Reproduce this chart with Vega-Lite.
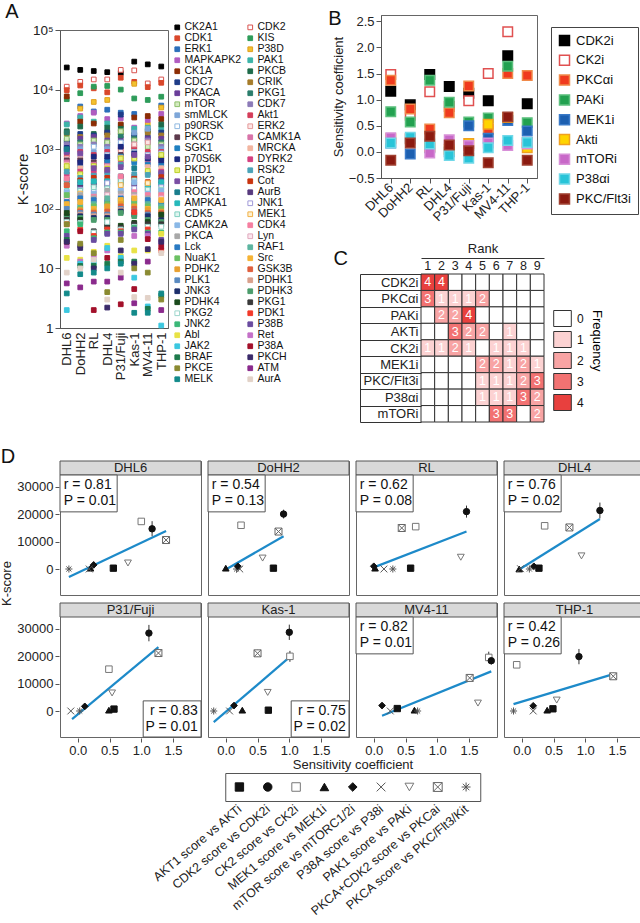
{
"$schema": "https://vega.github.io/schema/vega-lite/v6.json",
"padding": {"left": 0, "top": 1, "right": 0, "bottom": 0},
"autosize": {"type": "pad"},
"config": {
  "font": "Liberation Sans",
  "view": {"stroke": "#666", "strokeWidth": 1},
  "axis": {"labelFontSize": 13, "titleFontSize": 13, "titleFontWeight": "normal", "labelColor": "#222", "titleColor": "#222", "tickColor": "#555", "domainColor": "#555", "grid": false},
  "legend": {"labelFontSize": 12, "titleFontWeight": "normal", "labelColor": "#111"},
  "title": {"fontWeight": "normal", "fontSize": 20, "anchor": "start", "frame": "bounds", "color": "#111"},
  "header": {"labels": false},
  "headerFacet": {"labels": false}
},
"datasets": {
  "kin": [
    {"k":"CK2A1","DHL6":23500,"DoHH2":21400,"RL":20500,"DHL4":19600,"P31/Fuji":19000,"Kas-1":29500,"MV4-11":26500,"THP-1":24400},
    {"k":"CDK2","DHL6":11200,"DoHH2":13500,"RL":14800,"DHL4":14800,"P31/Fuji":21400,"Kas-1":21000,"MV4-11":12700,"THP-1":14800},
    {"k":"CDK1","DHL6":9800,"DoHH2":11700,"RL":10500,"DHL4":9000,"P31/Fuji":15800,"Kas-1":13500,"MV4-11":11000,"THP-1":13000},
    {"k":"KIS","DHL6":6900,"DoHH2":8700,"RL":11200,"DHL4":11500,"P31/Fuji":10000,"Kas-1":7100,"MV4-11":6700,"THP-1":7600},
    {"k":"ERK1","DHL6":1400,"DoHH2":5200,"RL":4300,"DHL4":4600,"P31/Fuji":4100,"Kas-1":3900,"MV4-11":2100,"THP-1":5400},
    {"k":"P38D","DHL6":480,"DoHH2":4800,"RL":6200,"DHL4":6700,"P31/Fuji":760,"Kas-1":12500,"MV4-11":2600,"THP-1":5000},
    {"k":"MAPKAPK2","DHL6":2700,"DoHH2":3600,"RL":4100,"DHL4":3200,"P31/Fuji":3300,"Kas-1":2300,"MV4-11":3100,"THP-1":3900},
    {"k":"PAK1","DHL6":2600,"DoHH2":3400,"RL":2900,"DHL4":2700,"P31/Fuji":2500,"Kas-1":2200,"MV4-11":2300,"THP-1":2200},
    {"k":"CK1A","DHL6":7700,"DoHH2":2900,"RL":2700,"DHL4":1900,"P31/Fuji":2600,"Kas-1":3400,"MV4-11":3600,"THP-1":3200},
    {"k":"PKCB","DHL6":2000,"DoHH2":2400,"RL":1800,"DHL4":2300,"P31/Fuji":2200,"Kas-1":1800,"MV4-11":2000,"THP-1":2600},
    {"k":"CDC7","DHL6":1300,"DoHH2":1800,"RL":1700,"DHL4":1900,"P31/Fuji":3800,"Kas-1":1700,"MV4-11":1600,"THP-1":1900},
    {"k":"CRIK","DHL6":1800,"DoHH2":1600,"RL":1500,"DHL4":1700,"P31/Fuji":1900,"Kas-1":1000,"MV4-11":1900,"THP-1":1700},
    {"k":"PKACA","DHL6":1100,"DoHH2":1500,"RL":1600,"DHL4":1400,"P31/Fuji":1500,"Kas-1":1400,"MV4-11":1500,"THP-1":1500},
    {"k":"PKG1","DHL6":1900,"DoHH2":1300,"RL":1300,"DHL4":1200,"P31/Fuji":1700,"Kas-1":1500,"MV4-11":1300,"THP-1":1300},
    {"k":"mTOR","DHL6":1500,"DoHH2":1200,"RL":1400,"DHL4":1300,"P31/Fuji":2000,"Kas-1":1400,"MV4-11":1100,"THP-1":1200},
    {"k":"CDK7","DHL6":1200,"DoHH2":1100,"RL":1200,"DHL4":1100,"P31/Fuji":1100,"Kas-1":1200,"MV4-11":1400,"THP-1":1100},
    {"k":"smMLCK","DHL6":900,"DoHH2":1000,"RL":900,"DHL4":1000,"P31/Fuji":1200,"Kas-1":1900,"MV4-11":2200,"THP-1":1000},
    {"k":"Akt1","DHL6":800,"DoHH2":900,"RL":800,"DHL4":900,"P31/Fuji":1000,"Kas-1":1100,"MV4-11":900,"THP-1":900},
    {"k":"p90RSK","DHL6":1000,"DoHH2":800,"RL":1100,"DHL4":800,"P31/Fuji":1300,"Kas-1":900,"MV4-11":800,"THP-1":850},
    {"k":"ERK2","DHL6":700,"DoHH2":700,"RL":700,"DHL4":700,"P31/Fuji":950,"Kas-1":1200,"MV4-11":1300,"THP-1":750},
    {"k":"PKCD","DHL6":650,"DoHH2":650,"RL":600,"DHL4":600,"P31/Fuji":800,"Kas-1":750,"MV4-11":650,"THP-1":700},
    {"k":"CAMK1A","DHL6":600,"DoHH2":550,"RL":550,"DHL4":550,"P31/Fuji":700,"Kas-1":650,"MV4-11":600,"THP-1":600},
    {"k":"SGK1","DHL6":950,"DoHH2":500,"RL":500,"DHL4":650,"P31/Fuji":750,"Kas-1":600,"MV4-11":550,"THP-1":550},
    {"k":"MRCKA","DHL6":550,"DoHH2":480,"RL":450,"DHL4":500,"P31/Fuji":720,"Kas-1":700,"MV4-11":500,"THP-1":480},
    {"k":"p70S6K","DHL6":1050,"DoHH2":600,"RL":750,"DHL4":750,"P31/Fuji":1100,"Kas-1":850,"MV4-11":700,"THP-1":650},
    {"k":"DYRK2","DHL6":380,"DoHH2":420,"RL":400,"DHL4":420,"P31/Fuji":600,"Kas-1":350,"MV4-11":400,"THP-1":420},
    {"k":"PKD1","DHL6":520,"DoHH2":380,"RL":520,"DHL4":470,"P31/Fuji":700,"Kas-1":700,"MV4-11":430,"THP-1":800},
    {"k":"RSK2","DHL6":420,"DoHH2":330,"RL":360,"DHL4":380,"P31/Fuji":550,"Kas-1":380,"MV4-11":370,"THP-1":380},
    {"k":"HIPK2","DHL6":900,"DoHH2":850,"RL":480,"DHL4":450,"P31/Fuji":500,"Kas-1":800,"MV4-11":750,"THP-1":400},
    {"k":"Cot","DHL6":250,"DoHH2":300,"RL":330,"DHL4":330,"P31/Fuji":280,"Kas-1":320,"MV4-11":280,"THP-1":340},
    {"k":"ROCK1","DHL6":1000,"DoHH2":230,"RL":280,"DHL4":280,"P31/Fuji":350,"Kas-1":480,"MV4-11":250,"THP-1":260},
    {"k":"AurB","DHL6":310,"DoHH2":260,"RL":250,"DHL4":250,"P31/Fuji":330,"Kas-1":260,"MV4-11":220,"THP-1":300},
    {"k":"AMPKA1","DHL6":280,"DoHH2":280,"RL":290,"DHL4":290,"P31/Fuji":260,"Kas-1":200,"MV4-11":250,"THP-1":280},
    {"k":"JNK1","DHL6":160,"DoHH2":210,"RL":200,"DHL4":270,"P31/Fuji":210,"Kas-1":220,"MV4-11":200,"THP-1":230},
    {"k":"CDK5","DHL6":200,"DoHH2":200,"RL":230,"DHL4":220,"P31/Fuji":300,"Kas-1":300,"MV4-11":210,"THP-1":210},
    {"k":"MEK1","DHL6":180,"DoHH2":180,"RL":170,"DHL4":160,"P31/Fuji":250,"Kas-1":150,"MV4-11":270,"THP-1":180},
    {"k":"CAMK2A","DHL6":190,"DoHH2":140,"RL":180,"DHL4":180,"P31/Fuji":200,"Kas-1":280,"MV4-11":180,"THP-1":200},
    {"k":"CDK4","DHL6":320,"DoHH2":160,"RL":160,"DHL4":140,"P31/Fuji":350,"Kas-1":190,"MV4-11":170,"THP-1":170},
    {"k":"PKCA","DHL6":150,"DoHH2":170,"RL":150,"DHL4":200,"P31/Fuji":180,"Kas-1":170,"MV4-11":150,"THP-1":130},
    {"k":"Lyn","DHL6":140,"DoHH2":120,"RL":130,"DHL4":170,"P31/Fuji":160,"Kas-1":160,"MV4-11":130,"THP-1":150},
    {"k":"Lck","DHL6":130,"DoHH2":150,"RL":140,"DHL4":130,"P31/Fuji":150,"Kas-1":140,"MV4-11":140,"THP-1":120},
    {"k":"RAF1","DHL6":110,"DoHH2":110,"RL":120,"DHL4":150,"P31/Fuji":140,"Kas-1":130,"MV4-11":120,"THP-1":110},
    {"k":"NuaK1","DHL6":170,"DoHH2":100,"RL":110,"DHL4":120,"P31/Fuji":130,"Kas-1":120,"MV4-11":110,"THP-1":100},
    {"k":"Src","DHL6":120,"DoHH2":130,"RL":100,"DHL4":100,"P31/Fuji":140,"Kas-1":150,"MV4-11":100,"THP-1":140},
    {"k":"PDHK2","DHL6":90,"DoHH2":95,"RL":90,"DHL4":110,"P31/Fuji":120,"Kas-1":110,"MV4-11":95,"THP-1":90},
    {"k":"GSK3B","DHL6":250,"DoHH2":90,"RL":85,"DHL4":90,"P31/Fuji":110,"Kas-1":100,"MV4-11":85,"THP-1":85},
    {"k":"PLK1","DHL6":100,"DoHH2":85,"RL":80,"DHL4":80,"P31/Fuji":100,"Kas-1":90,"MV4-11":80,"THP-1":75},
    {"k":"PDHK1","DHL6":80,"DoHH2":80,"RL":75,"DHL4":75,"P31/Fuji":95,"Kas-1":85,"MV4-11":70,"THP-1":70},
    {"k":"JNK3","DHL6":75,"DoHH2":75,"RL":70,"DHL4":70,"P31/Fuji":90,"Kas-1":80,"MV4-11":75,"THP-1":65},
    {"k":"PDHK3","DHL6":70,"DoHH2":70,"RL":65,"DHL4":65,"P31/Fuji":85,"Kas-1":75,"MV4-11":65,"THP-1":60},
    {"k":"PDHK4","DHL6":85,"DoHH2":65,"RL":38,"DHL4":50,"P31/Fuji":52,"Kas-1":58,"MV4-11":60,"THP-1":80},
    {"k":"PKG1 ","DHL6":65,"DoHH2":60,"RL":42,"DHL4":55,"P31/Fuji":48,"Kas-1":55,"MV4-11":55,"THP-1":55},
    {"k":"PKG2","DHL6":60,"DoHH2":58,"RL":40,"DHL4":60,"P31/Fuji":45,"Kas-1":50,"MV4-11":50,"THP-1":50},
    {"k":"PDK1","DHL6":55,"DoHH2":45,"RL":35,"DHL4":45,"P31/Fuji":42,"Kas-1":88,"MV4-11":45,"THP-1":20},
    {"k":"JNK2","DHL6":42,"DoHH2":55,"RL":32,"DHL4":40,"P31/Fuji":40,"Kas-1":48,"MV4-11":40,"THP-1":40},
    {"k":"P38B","DHL6":35,"DoHH2":24,"RL":30,"DHL4":38,"P31/Fuji":38,"Kas-1":45,"MV4-11":38,"THP-1":30},
    {"k":"Abl","DHL6":15,"DoHH2":14,"RL":19,"DHL4":24,"P31/Fuji":16,"Kas-1":20,"MV4-11":20,"THP-1":38},
    {"k":"Ret","DHL6":24,"DoHH2":13,"RL":16,"DHL4":20,"P31/Fuji":14,"Kas-1":35,"MV4-11":35,"THP-1":27},
    {"k":"JAK2","DHL6":2,"DoHH2":12,"RL":13,"DHL4":22,"P31/Fuji":15,"Kas-1":7,"MV4-11":2.3,"THP-1":1.1},
    {"k":"P38A","DHL6":28,"DoHH2":42,"RL":2,"DHL4":15,"P31/Fuji":2.5,"Kas-1":4.5,"MV4-11":31,"THP-1":23},
    {"k":"BRAF","DHL6":30,"DoHH2":11,"RL":11,"DHL4":12,"P31/Fuji":13,"Kas-1":13,"MV4-11":2.1,"THP-1":3.5},
    {"k":"PKCH","DHL6":28,"DoHH2":22,"RL":10,"DHL4":2.2,"P31/Fuji":20,"Kas-1":12,"MV4-11":21,"THP-1":28},
    {"k":"PKCE","DHL6":55,"DoHH2":26,"RL":18,"DHL4":4,"P31/Fuji":30,"Kas-1":10,"MV4-11":8.5,"THP-1":3},
    {"k":"ATM","DHL6":5.6,"DoHH2":4.8,"RL":6,"DHL4":6,"P31/Fuji":7,"Kas-1":2.6,"MV4-11":13,"THP-1":2},
    {"k":"MELK","DHL6":3.8,"DoHH2":8,"RL":8.5,"DHL4":10,"P31/Fuji":12,"Kas-1":1.8,"MV4-11":1.8,"THP-1":3.8},
    {"k":"AurA","DHL6":8.5,"DoHH2":10,"RL":14,"DHL4":3,"P31/Fuji":8.5,"Kas-1":3.3,"MV4-11":3.2,"THP-1":18}
  ],
  "sens": [
    {"inh":"CDK2i","DHL6":1.16,"DoHH2":0.9,"RL":1.48,"DHL4":1.25,"P31/Fuji":1.12,"Kas-1":0.98,"MV4-11":1.84,"THP-1":0.92},
    {"inh":"CK2i","DHL6":1.48,"DoHH2":0.7,"RL":1.15,"DHL4":0.87,"P31/Fuji":0.98,"Kas-1":1.5,"MV4-11":2.3,"THP-1":0.18},
    {"inh":"PKCαi","DHL6":1.37,"DoHH2":0.82,"RL":0.44,"DHL4":0.75,"P31/Fuji":1.26,"Kas-1":0.43,"MV4-11":1.5,"THP-1":1.46},
    {"inh":"PAKi","DHL6":0.77,"DoHH2":0.57,"RL":1.37,"DHL4":0.95,"P31/Fuji":0.57,"Kas-1":0.65,"MV4-11":1.64,"THP-1":0.56},
    {"inh":"MEK1i","DHL6":0.17,"DoHH2":-0.04,"RL":0.08,"DHL4":0.0,"P31/Fuji":0.5,"Kas-1":0.26,"MV4-11":0.6,"THP-1":0.4},
    {"inh":"Akti","DHL6":0.25,"DoHH2":0.25,"RL":0.1,"DHL4":0.05,"P31/Fuji":0.16,"Kas-1":0.53,"MV4-11":0.66,"THP-1":0.08},
    {"inh":"mTORi","DHL6":0.27,"DoHH2":0.25,"RL":-0.02,"DHL4":0.23,"P31/Fuji":0.12,"Kas-1":0.17,"MV4-11":0.12,"THP-1":0.15},
    {"inh":"P38αi","DHL6":0.17,"DoHH2":0.28,"RL":0.15,"DHL4":-0.07,"P31/Fuji":-0.12,"Kas-1":0.08,"MV4-11":0.22,"THP-1":0.18},
    {"inh":"PKC/Flt3i","DHL6":-0.16,"DoHH2":0.17,"RL":0.3,"DHL4":0.13,"P31/Fuji":0.02,"Kas-1":-0.21,"MV4-11":0.67,"THP-1":-0.16}
  ],
  "rank": [
    {"inh":"CDK2i","1":4,"2":4,"3":0,"4":0,"5":0,"6":0,"7":0,"8":0,"9":0},
    {"inh":"PKCαi","1":3,"2":1,"3":1,"4":1,"5":2,"6":0,"7":0,"8":0,"9":0},
    {"inh":"PAKi","1":0,"2":2,"3":2,"4":4,"5":0,"6":0,"7":0,"8":0,"9":0},
    {"inh":"AKTi","1":0,"2":0,"3":3,"4":2,"5":2,"6":0,"7":1,"8":0,"9":0},
    {"inh":"CK2i","1":1,"2":1,"3":2,"4":1,"5":0,"6":1,"7":1,"8":1,"9":0},
    {"inh":"MEK1i","1":0,"2":0,"3":0,"4":0,"5":2,"6":2,"7":1,"8":2,"9":1},
    {"inh":"PKC/Flt3i","1":0,"2":0,"3":0,"4":0,"5":1,"6":1,"7":1,"8":2,"9":3},
    {"inh":"P38αi","1":0,"2":0,"3":0,"4":0,"5":1,"6":1,"7":1,"8":3,"9":2},
    {"inh":"mTORi","1":0,"2":0,"3":0,"4":0,"5":0,"6":3,"7":3,"8":0,"9":2}
  ],
  "dd": [
    {"t":"ann","cell":"DHL6","pos":"tl","lab":"r = 0.81\nP = 0.01"},
    {"t":"ann","cell":"DoHH2","pos":"tl","lab":"r = 0.54\nP = 0.13"},
    {"t":"ann","cell":"RL","pos":"tl","lab":"r = 0.62\nP = 0.08"},
    {"t":"ann","cell":"DHL4","pos":"tl","lab":"r = 0.76\nP = 0.02"},
    {"t":"ann","cell":"P31/Fuji","pos":"br","lab":"r = 0.83\nP = 0.01"},
    {"t":"ann","cell":"Kas-1","pos":"br","lab":"r = 0.75\nP = 0.02"},
    {"t":"ann","cell":"MV4-11","pos":"tl","lab":"r = 0.82\nP = 0.01"},
    {"t":"ann","cell":"THP-1","pos":"tl","lab":"r = 0.42\nP = 0.26"},
    {"t":"line","cell":"DHL6","x":-0.14,"y":-2900},{"t":"line","cell":"DHL6","x":1.39,"y":13900},
    {"t":"line","cell":"DoHH2","x":0.0,"y":-200},{"t":"line","cell":"DoHH2","x":0.91,"y":12000},
    {"t":"line","cell":"RL","x":0.0,"y":600},{"t":"line","cell":"RL","x":1.46,"y":13700},
    {"t":"line","cell":"DHL4","x":-0.04,"y":-200},{"t":"line","cell":"DHL4","x":1.23,"y":18300},
    {"t":"line","cell":"P31/Fuji","x":-0.09,"y":-3000},{"t":"line","cell":"P31/Fuji","x":1.27,"y":23400},
    {"t":"line","cell":"Kas-1","x":-0.19,"y":-4100},{"t":"line","cell":"Kas-1","x":1.0,"y":19600},
    {"t":"line","cell":"MV4-11","x":0.13,"y":-1700},{"t":"line","cell":"MV4-11","x":1.85,"y":14500},
    {"t":"line","cell":"THP-1","x":-0.13,"y":2500},{"t":"line","cell":"THP-1","x":1.44,"y":13500},
    {"t":"pt","cell":"DHL6","comp":"c9","x":-0.14,"y":0},
    {"t":"pt","cell":"DHL6","comp":"c4","x":0.2,"y":300},
    {"t":"pt","cell":"DHL6","comp":"c5","x":0.25,"y":1500},
    {"t":"pt","cell":"DHL6","comp":"c6","x":0.18,"y":0},
    {"t":"pt","cell":"DHL6","comp":"c1","x":0.56,"y":300},
    {"t":"pt","cell":"DHL6","comp":"c7","x":0.79,"y":2200},
    {"t":"pt","cell":"DHL6","comp":"c3","x":1.0,"y":17400,"lo":16400,"hi":18400},
    {"t":"pt","cell":"DHL6","comp":"c2","x":1.17,"y":14700,"lo":12000,"hi":17500},
    {"t":"pt","cell":"DHL6","comp":"c8","x":1.39,"y":10600,"lo":9600,"hi":11600},
    {"t":"pt","cell":"DoHH2","comp":"c4","x":0.0,"y":300},
    {"t":"pt","cell":"DoHH2","comp":"c9","x":0.17,"y":0},
    {"t":"pt","cell":"DoHH2","comp":"c6","x":0.22,"y":0},
    {"t":"pt","cell":"DoHH2","comp":"c5","x":0.19,"y":1000},
    {"t":"pt","cell":"DoHH2","comp":"c1","x":0.75,"y":300},
    {"t":"pt","cell":"DoHH2","comp":"c7","x":0.58,"y":4000},
    {"t":"pt","cell":"DoHH2","comp":"c3","x":0.24,"y":16000},
    {"t":"pt","cell":"DoHH2","comp":"c8","x":0.83,"y":13700,"lo":12900,"hi":14500},
    {"t":"pt","cell":"DoHH2","comp":"c2","x":0.91,"y":20100,"lo":18500,"hi":21700},
    {"t":"pt","cell":"RL","comp":"c5","x":0.0,"y":1000},
    {"t":"pt","cell":"RL","comp":"c4","x":0.02,"y":300},
    {"t":"pt","cell":"RL","comp":"c6","x":0.16,"y":0},
    {"t":"pt","cell":"RL","comp":"c9","x":0.3,"y":0},
    {"t":"pt","cell":"RL","comp":"c1","x":0.58,"y":300},
    {"t":"pt","cell":"RL","comp":"c7","x":1.37,"y":4300},
    {"t":"pt","cell":"RL","comp":"c3","x":0.66,"y":15500,"lo":14700,"hi":16300},
    {"t":"pt","cell":"RL","comp":"c8","x":0.44,"y":15000,"lo":14000,"hi":16000},
    {"t":"pt","cell":"RL","comp":"c2","x":1.46,"y":21000,"lo":18800,"hi":23200},
    {"t":"pt","cell":"DHL4","comp":"c4","x":-0.04,"y":0},
    {"t":"pt","cell":"DHL4","comp":"c6","x":-0.02,"y":100},
    {"t":"pt","cell":"DHL4","comp":"c9","x":0.12,"y":0},
    {"t":"pt","cell":"DHL4","comp":"c5","x":0.19,"y":1000},
    {"t":"pt","cell":"DHL4","comp":"c1","x":0.27,"y":300},
    {"t":"pt","cell":"DHL4","comp":"c3","x":0.36,"y":15800,"lo":15000,"hi":16600},
    {"t":"pt","cell":"DHL4","comp":"c8","x":0.75,"y":15200,"lo":13900,"hi":16500},
    {"t":"pt","cell":"DHL4","comp":"c7","x":0.94,"y":4800,"lo":4000,"hi":5600},
    {"t":"pt","cell":"DHL4","comp":"c2","x":1.23,"y":21400,"lo":18500,"hi":24300},
    {"t":"pt","cell":"P31/Fuji","comp":"c6","x":-0.11,"y":0},
    {"t":"pt","cell":"P31/Fuji","comp":"c9","x":0.03,"y":0},
    {"t":"pt","cell":"P31/Fuji","comp":"c5","x":0.11,"y":1700},
    {"t":"pt","cell":"P31/Fuji","comp":"c4","x":0.49,"y":300},
    {"t":"pt","cell":"P31/Fuji","comp":"c1","x":0.57,"y":700},
    {"t":"pt","cell":"P31/Fuji","comp":"c3","x":0.49,"y":15300,"lo":14500,"hi":16100},
    {"t":"pt","cell":"P31/Fuji","comp":"c7","x":0.54,"y":6600,"lo":6000,"hi":7200},
    {"t":"pt","cell":"P31/Fuji","comp":"c2","x":1.12,"y":28500,"lo":25500,"hi":31500},
    {"t":"pt","cell":"P31/Fuji","comp":"c8","x":1.27,"y":21200,"lo":20000,"hi":22400},
    {"t":"pt","cell":"Kas-1","comp":"c9","x":-0.19,"y":0},
    {"t":"pt","cell":"Kas-1","comp":"c6","x":0.06,"y":0},
    {"t":"pt","cell":"Kas-1","comp":"c5","x":0.13,"y":2000},
    {"t":"pt","cell":"Kas-1","comp":"c4","x":0.26,"y":300},
    {"t":"pt","cell":"Kas-1","comp":"c1","x":0.67,"y":300},
    {"t":"pt","cell":"Kas-1","comp":"c7","x":0.66,"y":6800},
    {"t":"pt","cell":"Kas-1","comp":"c8","x":0.5,"y":21100,"lo":19800,"hi":22400},
    {"t":"pt","cell":"Kas-1","comp":"c3","x":1.01,"y":20000,"lo":18000,"hi":22000},
    {"t":"pt","cell":"Kas-1","comp":"c2","x":1.0,"y":28800,"lo":26000,"hi":31600},
    {"t":"pt","cell":"MV4-11","comp":"c5","x":0.13,"y":2000},
    {"t":"pt","cell":"MV4-11","comp":"c6","x":0.26,"y":0},
    {"t":"pt","cell":"MV4-11","comp":"c1","x":0.37,"y":900},
    {"t":"pt","cell":"MV4-11","comp":"c4","x":0.64,"y":300},
    {"t":"pt","cell":"MV4-11","comp":"c9","x":0.69,"y":0},
    {"t":"pt","cell":"MV4-11","comp":"c7","x":1.64,"y":2900},
    {"t":"pt","cell":"MV4-11","comp":"c8","x":1.51,"y":12100,"lo":11500,"hi":12700},
    {"t":"pt","cell":"MV4-11","comp":"c3","x":1.81,"y":19600,"lo":17500,"hi":21700},
    {"t":"pt","cell":"MV4-11","comp":"c2","x":1.85,"y":18400,"lo":17000,"hi":19800},
    {"t":"pt","cell":"THP-1","comp":"c9","x":-0.13,"y":0},
    {"t":"pt","cell":"THP-1","comp":"c5","x":0.18,"y":1900},
    {"t":"pt","cell":"THP-1","comp":"c6","x":0.18,"y":0},
    {"t":"pt","cell":"THP-1","comp":"c4","x":0.4,"y":300},
    {"t":"pt","cell":"THP-1","comp":"c1","x":0.49,"y":800},
    {"t":"pt","cell":"THP-1","comp":"c7","x":0.55,"y":4000,"lo":3300,"hi":4700},
    {"t":"pt","cell":"THP-1","comp":"c3","x":-0.08,"y":16900,"lo":16200,"hi":17600},
    {"t":"pt","cell":"THP-1","comp":"c2","x":0.9,"y":19900,"lo":17100,"hi":22700},
    {"t":"pt","cell":"THP-1","comp":"c8","x":1.44,"y":12700,"lo":11400,"hi":14000}
  ],
  "comps": [
    {"comp":"AKT1 score vs AKTi"},
    {"comp":"CDK2 score vs CDK2i"},
    {"comp":"CK2 score vs CK2i"},
    {"comp":"MEK1 score vs MEK1i"},
    {"comp":"mTOR score vs mTORC1/2i"},
    {"comp":"P38A score vs P38i"},
    {"comp":"PAK1 score vs PAKi"},
    {"comp":"PKCA+CDK2 score vs PKCai"},
    {"comp":"PKCA score vs PKC/Flt3/Kit"}
  ]
},
"resolve": {"scale": {"fill": "independent", "stroke": "independent", "shape": "independent", "size": "independent"}, "legend": {"fill": "independent", "stroke": "independent", "shape": "independent", "size": "independent"}},
"columns": 1,
"spacing": 24,
"concat": [
  {
    "columns": 2,
    "spacing": 25,
    "resolve": {"scale": {"fill": "independent", "stroke": "independent", "shape": "independent", "size": "independent"}, "legend": {"fill": "independent", "stroke": "independent", "shape": "independent", "size": "independent"}},
    "concat": [
      {
        "bounds": "flush",
        "spacing": 0,
        "resolve": {"scale": {"fill": "independent", "stroke": "independent", "shape": "independent", "size": "independent"}, "legend": {"fill": "independent", "stroke": "independent", "shape": "independent", "size": "independent"}},
        "vconcat": [
          {"width": 110, "height": 15, "view": {"stroke": null}, "data": {"values": []}, "mark": "point"},
          {
            "title": {"text": "A", "dx": -10, "offset": 0},
            "width": 108, "height": 298,
            "data": {"name": "kin"},
            "transform": [{"fold": ["DHL6","DoHH2","RL","DHL4","P31/Fuji","Kas-1","MV4-11","THP-1"], "as": ["cell","v"]}, {"filter": "datum.v > 0"}],
            "mark": {"type": "square", "size": 22, "strokeWidth": 1, "opacity": 1},
            "encoding": {
              "x": {"field": "cell", "type": "nominal", "sort": null, "scale": {"type": "point", "padding": 0.5}, "axis": {"title": null, "labelAngle": -90, "labelAlign": "right", "labelBaseline": "middle", "labelFontSize": 13, "ticks": false, "labelPadding": 4}},
              "y": {"field": "v", "type": "quantitative", "scale": {"type": "log", "domain": [1, 100000], "nice": false}, "axis": {"title": "K-score", "titleFontSize": 15, "values": [1,10,100,1000,10000,100000], "labelExpr": "datum.value == 1 ? '1' : datum.value == 10 ? '10' : datum.value == 100 ? '10²' : datum.value == 1000 ? '10³' : datum.value == 10000 ? '10⁴' : '10⁵'", "labelFontSize": 13.5, "tickSize": 5, "titlePadding": 2}},
              "fill": {"field": "k", "type": "nominal",
                "scale": {"domain": ["CK2A1","CDK1","ERK1","MAPKAPK2","CK1A","CDC7","PKACA","mTOR","smMLCK","p90RSK","PKCD","SGK1","p70S6K","PKD1","HIPK2","ROCK1","AMPKA1","CDK5","CAMK2A","PKCA","Lck","NuaK1","PDHK2","PLK1","JNK3","PDHK4","PKG2","JNK2","Abl","JAK2","BRAF","PKCE","MELK","CDK2","KIS","P38D","PAK1","PKCB","CRIK","PKG1","CDK7","Akt1","ERK2","CAMK1A","MRCKA","DYRK2","RSK2","Cot","AurB","JNK1","MEK1","CDK4","Lyn","RAF1","Src","GSK3B","PDHK1","PDHK3","PKG1 ","PDK1","P38B","Ret","P38A","PKCH","ATM","AurA"],
                  "range": ["#000000","#d9472b","#2c6fbb","#b05cc0","#8c2d04","#1f3c88","#6a3d9a","#d4eac0","#7ea6d8","#ffffff","#5c3a4c","#1f7fbf","#1b2a80","#e8f07a","#7a4ea3","#1a7d8c","#27b9bb","#e0f5f0","#8ab8e6","#a8a8a8","#2a7ac2","#6cc063","#e8a030","#5a8ac0","#1c2f6b","#1b4a1c","#ffffff","#3cb878","#e8e245","#3cc8e0","#1e7a4c","#8a8a32","#138a8a","#ffffff","#2e9c5a","#f2c12e","#3cb4a8","#1f6b4a","#a67c2a","#2b7d6c","#8c7bb8","#d43d5a","#fde6e6","#d873a8","#f2b6a0","#d5407f","#4aa3b8","#c9340f","#583a7e","#ffffff","#fff1d0","#f57fa0","#fbe6ee","#5cb5a0","#f5b335","#e0603e","#d9a08c","#4c9c6c","#3a3a3a","#f23a2a","#6a4ca0","#c470c8","#a3102a","#3a2a6a","#8a2a8c","#e2d2c8"]},
                "legend": {"title": null, "orient": "none", "legendX": 112, "legendY": -8, "columns": 2, "symbolLimit": 100, "symbolType": "square", "symbolSize": 22, "symbolStrokeWidth": 1, "labelFontSize": 10.5, "labelOffset": 2, "rowPadding": 0, "columnPadding": 3, "padding": 0, "labelLimit": 200}},
              "stroke": {"field": "k", "type": "nominal",
                "scale": {"domain": ["CK2A1","CDK1","ERK1","MAPKAPK2","CK1A","CDC7","PKACA","mTOR","smMLCK","p90RSK","PKCD","SGK1","p70S6K","PKD1","HIPK2","ROCK1","AMPKA1","CDK5","CAMK2A","PKCA","Lck","NuaK1","PDHK2","PLK1","JNK3","PDHK4","PKG2","JNK2","Abl","JAK2","BRAF","PKCE","MELK","CDK2","KIS","P38D","PAK1","PKCB","CRIK","PKG1","CDK7","Akt1","ERK2","CAMK1A","MRCKA","DYRK2","RSK2","Cot","AurB","JNK1","MEK1","CDK4","Lyn","RAF1","Src","GSK3B","PDHK1","PDHK3","PKG1 ","PDK1","P38B","Ret","P38A","PKCH","ATM","AurA"],
                  "range": ["#000000","#d9472b","#2c6fbb","#b05cc0","#8c2d04","#1f3c88","#6a3d9a","#8dbf6a","#7ea6d8","#8fb8e0","#5c3a4c","#1f7fbf","#1b2a80","#bcd12a","#7a4ea3","#1a7d8c","#27b9bb","#7fcfbf","#8ab8e6","#a8a8a8","#2a7ac2","#6cc063","#e8a030","#5a8ac0","#1c2f6b","#1b4a1c","#9cd6cc","#3cb878","#e8e245","#3cc8e0","#1e7a4c","#8a8a32","#138a8a","#d9534f","#2e9c5a","#e0a020","#3cb4a8","#1f6b4a","#a67c2a","#2b7d6c","#8c7bb8","#d43d5a","#e39a9a","#d873a8","#f2b6a0","#d5407f","#4aa3b8","#c9340f","#583a7e","#a09ad8","#f0b048","#f57fa0","#e0a8bc","#5cb5a0","#f5b335","#e0603e","#d9a08c","#4c9c6c","#3a3a3a","#f23a2a","#6a4ca0","#c470c8","#a3102a","#3a2a6a","#8a2a8c","#e2d2c8"]},
                "legend": {"title": null, "orient": "none", "legendX": 112, "legendY": -8, "columns": 2, "symbolLimit": 100, "symbolType": "square", "symbolSize": 22, "symbolStrokeWidth": 1, "labelFontSize": 10.5, "labelOffset": 2, "rowPadding": 0, "columnPadding": 3, "padding": 0, "labelLimit": 200}}
            }
          }
        ]
      },
      {
        "columns": 1,
        "spacing": 17,
        "resolve": {"scale": {"fill": "independent", "stroke": "independent", "shape": "independent", "size": "independent"}, "legend": {"fill": "independent", "stroke": "independent", "shape": "independent", "size": "independent"}},
        "concat": [
          {
            "title": {"text": "B", "dx": -4, "offset": -14},
            "width": 156, "height": 163,
            "data": {"name": "sens"},
            "transform": [{"fold": ["DHL6","DoHH2","RL","DHL4","P31/Fuji","Kas-1","MV4-11","THP-1"], "as": ["cell","v"]}],
            "mark": {"type": "square", "size": 90, "strokeWidth": 1.5, "opacity": 1},
            "encoding": {
              "x": {"field": "cell", "type": "nominal", "sort": null, "scale": {"type": "point", "padding": 0.5}, "axis": {"title": null, "labelAngle": -45, "labelAlign": "right", "labelBaseline": "middle", "labelFontSize": 13, "tickSize": 5}},
              "y": {"field": "v", "type": "quantitative", "scale": {"domain": [-0.5, 2.62], "nice": false, "zero": false}, "axis": {"title": "Sensitivity coefficient", "values": [-0.5,0,0.5,1,1.5,2,2.5], "format": ".1f", "labelFontSize": 13, "titleFontSize": 13, "tickSize": 5, "titlePadding": 3}},
              "fill": {"field": "inh", "type": "nominal", "scale": {"domain": ["CDK2i","CK2i","PKCαi","PAKi","MEK1i","Akti","mTORi","P38αi","PKC/Flt3i"], "range": ["#000000","#ffffff","#f03a1e","#22a150","#1c5fb0","#ffd400","#c868c8","#28c4d8","#8b1a10"]},
                "legend": {"title": null, "orient": "none", "legendX": 170, "legendY": 12, "strokeColor": "#444", "padding": 7, "symbolType": "square", "symbolSize": 100, "symbolStrokeWidth": 1.5, "labelFontSize": 13, "rowPadding": 2.8, "labelOffset": 5}},
              "stroke": {"field": "inh", "type": "nominal", "scale": {"domain": ["CDK2i","CK2i","PKCαi","PAKi","MEK1i","Akti","mTORi","P38αi","PKC/Flt3i"], "range": ["#000000","#e05050","#f08a4a","#5cc07e","#3a7ac8","#f0a020","#d890d8","#70d8e8","#a04030"]},
                "legend": {"title": null, "orient": "none", "legendX": 170, "legendY": 12, "strokeColor": "#444", "padding": 7, "symbolType": "square", "symbolSize": 100, "symbolStrokeWidth": 1.5, "labelFontSize": 13, "rowPadding": 2.8, "labelOffset": 5}}
            }
          },
          {
            "title": {"text": "C", "dx": -26, "offset": -27},
            "width": 163, "height": 148,
            "view": {"stroke": null},
            "data": {"name": "rank"},
            "transform": [{"fold": ["1","2","3","4","5","6","7","8","9"], "as": ["rank","f"]}],
            "resolve": {"axis": {"x": "independent"}},
            "layer": [
              {"mark": {"type": "rect", "stroke": "#333", "strokeWidth": 1},
               "encoding": {
                 "x": {"field": "rank", "type": "ordinal", "sort": null, "scale": {"range": [40, 163]}, "axis": {"orient": "top", "title": null, "labelAngle": 0, "labelFontSize": 12.5, "ticks": false, "domain": false, "labelPadding": 2}},
                 "y": {"field": "inh", "type": "nominal", "sort": null, "axis": {"title": null, "offset": 21, "tickSize": -61, "tickBand": "extent", "domainColor": "#333", "tickColor": "#333", "labelFontSize": 13, "labelPadding": 3}},
                 "fill": {"field": "f", "type": "ordinal", "scale": {"domain": [0,1,2,3,4], "range": ["#ffffff","#fcd2d2","#f8a4a4","#f27272","#e8403e"]},
                 "legend": {"title": "Frequency", "titleOrient": "right", "titleFontSize": 13, "titleAnchor": "start", "titleBaseline": "bottom", "titlePadding": 6, "orient": "none", "legendX": 173, "legendY": 36, "symbolType": "M-1.1,-1H1.1V1H-1.1Z", "symbolSize": 256, "symbolStrokeColor": "#333", "symbolStrokeWidth": 1, "rowPadding": 0, "labelFontSize": 12, "labelOffset": 6, "padding": 0, "encoding": {"title": {"angle": {"value": 90}, "baseline": {"value": "bottom"}}}}}}},
              {"transform": [{"filter": "datum.f > 0"}], "mark": {"type": "text", "color": "#ffffff", "fontSize": 12.5},
               "encoding": {
                 "x": {"field": "rank", "type": "ordinal", "sort": null, "scale": {"range": [40, 163]}, "axis": {"orient": "top", "title": "Rank", "titleFontSize": 13, "titlePadding": 3, "labels": false, "ticks": false, "domain": true, "domainColor": "#333", "offset": 16}},
                 "y": {"field": "inh", "type": "nominal", "sort": null, "axis": {"title": null, "offset": 21, "tickSize": -61, "tickBand": "extent", "domainColor": "#333", "tickColor": "#333", "labelFontSize": 13, "labelPadding": 3}},
                 "text": {"field": "f", "type": "quantitative"}}}
            ]
          }
        ]
      }
    ]
  },
  {
    "title": {"text": "D", "offset": -8},
    "spacing": 0,
    "center": true,
    "resolve": {"scale": {"fill": "independent", "stroke": "independent", "shape": "independent", "size": "independent"}, "legend": {"fill": "independent", "stroke": "independent", "shape": "independent", "size": "independent"}},
    "vconcat": [
      {
        "title": {"text": "K-score", "orient": "left", "anchor": "middle", "frame": "bounds", "fontSize": 13, "offset": 3, "dx": 32, "color": "#222"},
        "data": {"name": "dd"},
        "facet": {"field": "cell", "type": "nominal", "sort": ["DHL6","DoHH2","RL","DHL4","P31/Fuji","Kas-1","MV4-11","THP-1"], "header": {"title": "Sensitivity coefficient", "titleOrient": "bottom", "titleFontSize": 13, "titleFontWeight": "normal", "titleColor": "#222", "titlePadding": 2, "labels": false, "labelExpr": "''", "labelFontSize": 1, "labelPadding": 0, "labelColor": "transparent"}},
        "columns": 4,
        "spacing": {"row": 5, "column": 5},
        "spec": {
          "width": 141, "height": 134,
          "layer": [
            {"transform": [{"filter": "datum.t == 'ann'"}],
             "mark": {"type": "rect", "fill": "#d9d9d9", "stroke": "#555", "strokeWidth": 1},
             "encoding": {
               "x": {"datum": -0.28, "type": "quantitative", "scale": {"domain": [-0.28, 1.94], "nice": false, "zero": false}, "axis": {"values": [0,0.5,1,1.5], "format": ".1f", "title": null, "labelFontSize": 13, "tickSize": 4, "domain": false}},
               "x2": {"datum": 1.94},
               "y": {"datum": 34390, "type": "quantitative", "scale": {"domain": [-9512, 39512], "nice": false, "zero": false}, "axis": {"values": [0,10000,20000,30000], "format": "d", "title": null, "labelFontSize": 13, "tickSize": 4, "domain": false}},
               "y2": {"datum": 39512}}},
            {"transform": [{"filter": "datum.t == 'ann'"}],
             "mark": {"type": "text", "fontSize": 13, "color": "#222", "baseline": "middle"},
             "encoding": {"x": {"datum": 0.83, "type": "quantitative"}, "y": {"datum": 36950, "type": "quantitative"}, "text": {"field": "cell"}}},
            {"transform": [{"filter": "datum.t == 'ann' && datum.pos == 'tl'"}],
             "mark": {"type": "rect", "fill": "#ffffff", "stroke": "#555", "strokeWidth": 1},
             "encoding": {"x": {"datum": -0.28, "type": "quantitative"}, "x2": {"datum": 0.62}, "y": {"datum": 20900, "type": "quantitative"}, "y2": {"datum": 34390}}},
            {"transform": [{"filter": "datum.t == 'ann' && datum.pos == 'br'"}],
             "mark": {"type": "rect", "fill": "#ffffff", "stroke": "#555", "strokeWidth": 1},
             "encoding": {"x": {"datum": 1.03, "type": "quantitative"}, "x2": {"datum": 1.94}, "y": {"datum": -9512, "type": "quantitative"}, "y2": {"datum": 3700}}},
            {"transform": [{"filter": "datum.t == 'ann' && datum.pos == 'tl'"}],
             "mark": {"type": "text", "fontSize": 14, "color": "#111", "align": "left", "baseline": "top", "lineBreak": "\n", "lineHeight": 16},
             "encoding": {"x": {"datum": -0.22, "type": "quantitative"}, "y": {"datum": 33300, "type": "quantitative"}, "text": {"field": "lab"}}},
            {"transform": [{"filter": "datum.t == 'ann' && datum.pos == 'br'"}],
             "mark": {"type": "text", "fontSize": 14, "color": "#111", "align": "right", "baseline": "top", "lineBreak": "\n", "lineHeight": 16},
             "encoding": {"x": {"datum": 1.89, "type": "quantitative"}, "y": {"datum": 2700, "type": "quantitative"}, "text": {"field": "lab"}}},
            {"transform": [{"filter": "datum.t == 'line'"}],
             "mark": {"type": "line", "color": "#1d8ac9", "strokeWidth": 2.2},
             "encoding": {"x": {"field": "x", "type": "quantitative"}, "y": {"field": "y", "type": "quantitative"}}},
            {"transform": [{"filter": "datum.t == 'pt' && isValid(datum.lo)"}],
             "mark": {"type": "rule", "color": "#333", "strokeWidth": 1},
             "encoding": {"x": {"field": "x", "type": "quantitative"}, "y": {"field": "lo", "type": "quantitative"}, "y2": {"field": "hi"}}},
            {"transform": [{"filter": "datum.t == 'pt'"}],
             "mark": {"type": "point", "filled": true, "strokeWidth": 1, "opacity": 1},
             "encoding": {
               "x": {"field": "x", "type": "quantitative"},
               "y": {"field": "y", "type": "quantitative"},
               "shape": {"field": "comp", "type": "nominal", "scale": {"domain": ["c1","c2","c3","c4","c5","c6","c7","c8","c9"], "range": ["square","circle","square","triangle-up","diamond","M-1,-1L1,1M-1,1L1,-1","triangle-down","M-1,-1H1V1H-1ZM-1,-1L1,1M-1,1L1,-1","M-1,0H1M0,-1V1M-0.72,-0.72L0.72,0.72M-0.72,0.72L0.72,-0.72"]}, "legend": null},
               "fill": {"field": "comp", "type": "nominal", "scale": {"domain": ["c1","c2","c3","c4","c5","c6","c7","c8","c9"], "range": ["#111111","#111111","#ffffff","#111111","#111111","transparent","#ffffff","#ffffff","transparent"]}, "legend": null},
               "stroke": {"field": "comp", "type": "nominal", "scale": {"domain": ["c1","c2","c3","c4","c5","c6","c7","c8","c9"], "range": ["#111111","#111111","#777777","#111111","#111111","#555555","#777777","#666666","#555555"]}, "legend": null},
               "size": {"field": "comp", "type": "nominal", "scale": {"domain": ["c1","c2","c3","c4","c5","c6","c7","c8","c9"], "range": [40,50,40,45,30,40,45,45,55]}, "legend": null}
             }}
          ]
        }
      },
      {
        "width": 255, "height": 28,
        "view": {"stroke": "#555"},
        "data": {"name": "comps"},
        "mark": {"type": "point", "filled": true, "strokeWidth": 1, "opacity": 1},
        "encoding": {
          "x": {"field": "comp", "type": "nominal", "sort": null, "scale": {"type": "point", "padding": 0.5}, "axis": {"title": null, "labelAngle": -40, "labelAlign": "right", "labelBaseline": "middle", "ticks": false, "domain": false, "labelFontSize": 12.5, "labelPadding": 6, "labelLimit": 300}},
          "shape": {"field": "comp", "type": "nominal", "scale": {"domain": ["AKT1 score vs AKTi","CDK2 score vs CDK2i","CK2 score vs CK2i","MEK1 score vs MEK1i","mTOR score vs mTORC1/2i","P38A score vs P38i","PAK1 score vs PAKi","PKCA+CDK2 score vs PKCai","PKCA score vs PKC/Flt3/Kit"], "range": ["square","circle","square","triangle-up","diamond","M-1,-1L1,1M-1,1L1,-1","triangle-down","M-1,-1H1V1H-1ZM-1,-1L1,1M-1,1L1,-1","M-1,0H1M0,-1V1M-0.72,-0.72L0.72,0.72M-0.72,0.72L0.72,-0.72"]}, "legend": null},
          "fill": {"field": "comp", "type": "nominal", "scale": {"domain": ["AKT1 score vs AKTi","CDK2 score vs CDK2i","CK2 score vs CK2i","MEK1 score vs MEK1i","mTOR score vs mTORC1/2i","P38A score vs P38i","PAK1 score vs PAKi","PKCA+CDK2 score vs PKCai","PKCA score vs PKC/Flt3/Kit"], "range": ["#111111","#111111","#ffffff","#111111","#111111","transparent","#ffffff","#ffffff","transparent"]}, "legend": null},
          "stroke": {"field": "comp", "type": "nominal", "scale": {"domain": ["AKT1 score vs AKTi","CDK2 score vs CDK2i","CK2 score vs CK2i","MEK1 score vs MEK1i","mTOR score vs mTORC1/2i","P38A score vs P38i","PAK1 score vs PAKi","PKCA+CDK2 score vs PKCai","PKCA score vs PKC/Flt3/Kit"], "range": ["#111111","#111111","#777777","#111111","#111111","#555555","#777777","#666666","#555555"]}, "legend": null},
          "size": {"field": "comp", "type": "nominal", "scale": {"domain": ["AKT1 score vs AKTi","CDK2 score vs CDK2i","CK2 score vs CK2i","MEK1 score vs MEK1i","mTOR score vs mTORC1/2i","P38A score vs P38i","PAK1 score vs PAKi","PKCA+CDK2 score vs PKCai","PKCA score vs PKC/Flt3/Kit"], "range": [70,80,70,80,50,70,80,80,90]}, "legend": null}
        }
      }
    ]
  }
]
}
